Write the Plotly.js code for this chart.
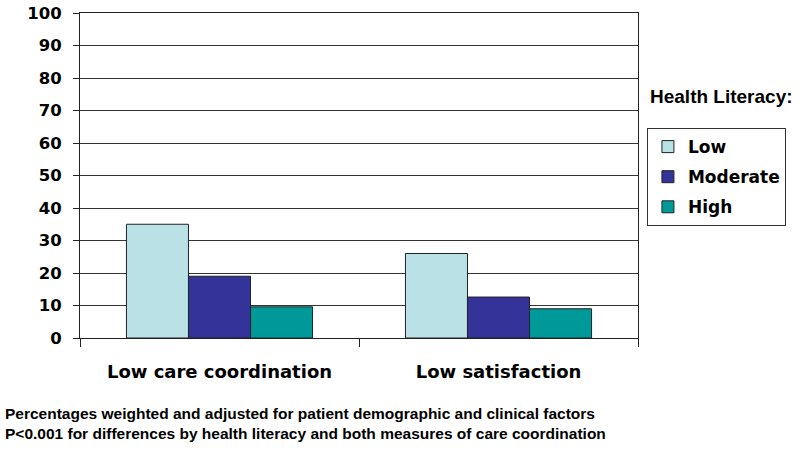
<!DOCTYPE html>
<html>
<head>
<meta charset="utf-8">
<script src="https://cdn.plot.ly/plotly-3.0.1.min.js"></script>
<style>html,body{margin:0;padding:0;background:#fff;}#chart{width:800px;height:451px;}</style>
</head>
<body>
<div id="chart"></div>
<script>
const categories = ["Low care coordination", "Low satisfaction"];
const seriesNames = ["Low", "Moderate", "High"];
const lowValues = [35, 26];
const moderateValues = [19, 12.6];
const highValues = [9.6, 9];
const yTicks = [0, 10, 20, 30, 40, 50, 60, 70, 80, 90, 100];
const seriesColors = ["#b9e1e6", "#333399", "#009999"];

const allValues = [lowValues, moderateValues, highValues];
const traces = allValues.map((vals, i) => ({
  type: "bar",
  name: seriesNames[i],
  x: categories,
  y: vals,
  legendgroup: "g" + i,
  marker: {color: seriesColors[i], line: {color: "#222", width: 1}},
  hoverinfo: "skip"
}));

const boldWide = "DejaVu Sans";
const layout = {
  width: 800, height: 451,
  margin: {l: 80, r: 162, t: 13, b: 113},
  paper_bgcolor: "#fff", plot_bgcolor: "#fff",
  barmode: "group",
  bargap: 0.333, bargroupgap: 0,
  showlegend: true,
  legend: {
    x: 1.016, xanchor: "left", y: 0.646, yanchor: "top",
    bordercolor: "#333", borderwidth: 1, bgcolor: "#fff",
    font: {family: boldWide, size: 17, color: "#000", weight: "bold"},
    traceorder: "grouped", tracegroupgap: 5, itemwidth: 30
  },
  xaxis: {
    type: "category",
    tickson: "boundaries", ticks: "outside", ticklen: 8, tickcolor: "#222",
    showline: true, linecolor: "#222", linewidth: 1, mirror: true,
    showgrid: false,
    tickfont: {family: boldWide, size: 18, color: "#000", weight: "bold"},
    ticklabelstandoff: 17
  },
  yaxis: {
    range: [0, 100], tickvals: yTicks, ticktext: yTicks.map(String),
    ticks: "outside", ticklen: 6, tickcolor: "#222",
    showline: true, linecolor: "#222", linewidth: 1, mirror: true,
    showgrid: true, gridcolor: "#333", gridwidth: 1, zeroline: false,
    tickfont: {family: boldWide, size: 16.5, color: "#000", weight: "bold"},
    ticklabelstandoff: 8
  },
  annotations: [
    {text: "Health Literacy:", xref: "paper", yref: "paper",
     x: 1.018, xanchor: "left", y: (338 - 96) / 325, yanchor: "middle",
     showarrow: false, font: {family: "Liberation Sans", size: 19, color: "#000", weight: "bold"}},
    {text: "Percentages weighted and adjusted for patient demographic and clinical factors<br>P<0.001 for differences by health literacy and both measures of care coordination",
     xref: "paper", yref: "paper", x: (3 - 80) / 558, xanchor: "left",
     y: (338 - 403) / 325, yanchor: "top", align: "left", showarrow: false,
     font: {family: "Liberation Sans", size: 15.5, color: "#000", weight: "bold"}}
  ]
};

Plotly.newPlot("chart", traces, layout, {displayModeBar: false, staticPlot: true});
</script>
</body>
</html>
